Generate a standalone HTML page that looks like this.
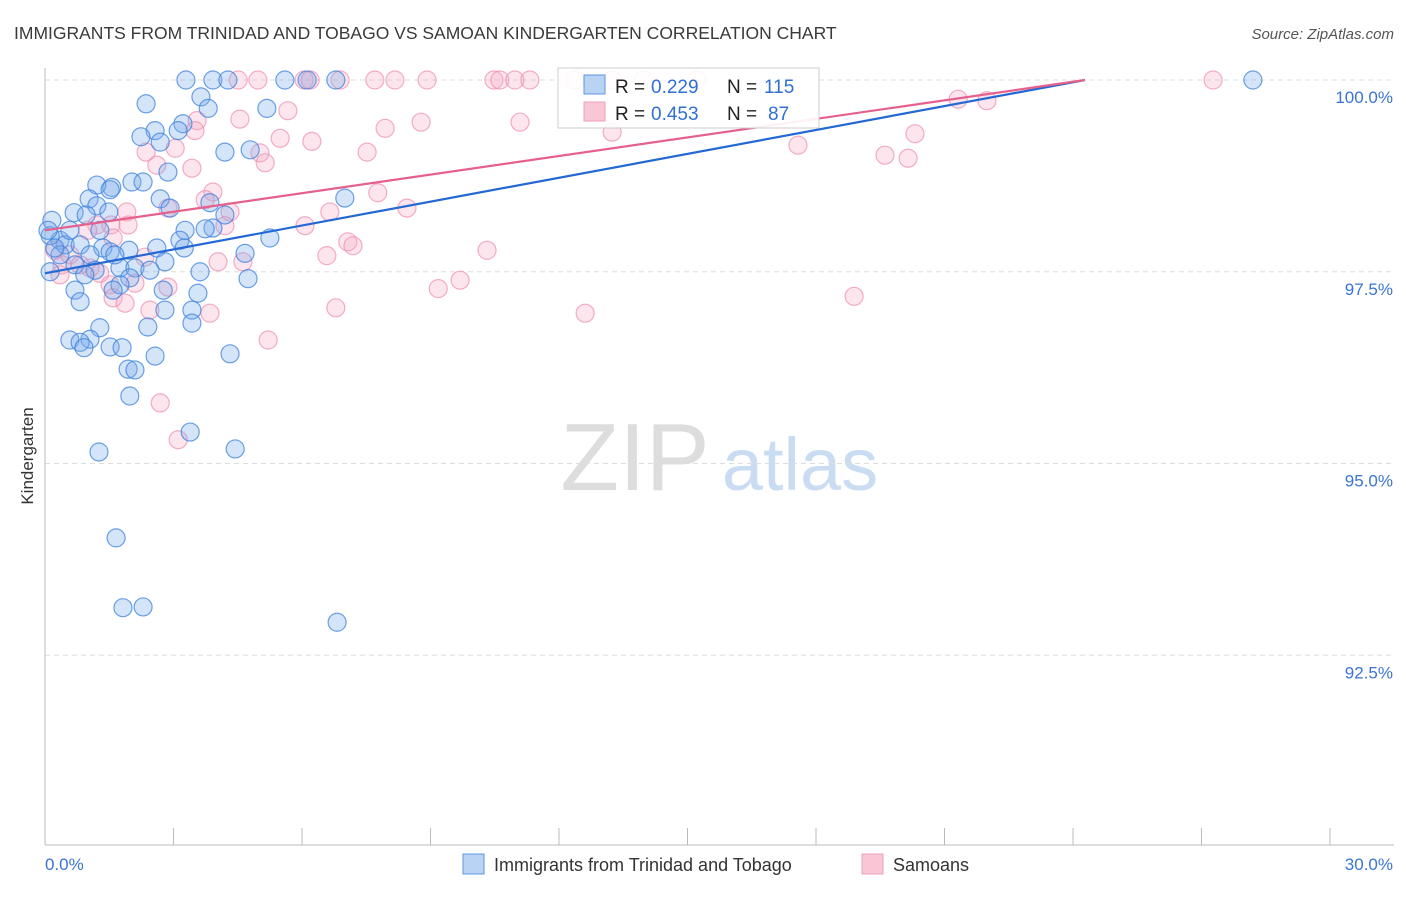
<!DOCTYPE html>
<html><head><meta charset="utf-8"><style>
body{margin:0;background:#fff;font-family:"Liberation Sans",sans-serif;}
svg text{font-family:"Liberation Sans",sans-serif;}
</style></head><body>
<svg id="chart" width="1406" height="892" xmlns="http://www.w3.org/2000/svg">
<text x="14" y="39" font-size="17.5" fill="#3a3a3a">IMMIGRANTS FROM TRINIDAD AND TOBAGO VS SAMOAN KINDERGARTEN CORRELATION CHART</text>
<text x="1394" y="39" font-size="15" fill="#555" text-anchor="end" font-style="italic">Source: ZipAtlas.com</text>
<g>
<text x="635" y="490" font-size="96" fill="#ddd" font-family="Liberation Serif" text-anchor="middle">ZIP</text>
<text x="800" y="490" font-size="74" fill="#c9dcf2" text-anchor="middle">atlas</text>
</g>
<g id="grid"></g>
<g id="axes"></g>
<g id="points"></g>
<g id="lines"></g>
<text transform="translate(33,456) rotate(-90)" font-size="17" fill="#333" text-anchor="middle">Kindergarten</text>
<g>
<rect x="558" y="68" width="261" height="60" fill="#fff" fill-opacity="0.9" stroke="#ccc"/>
<rect x="584" y="75" width="21" height="19" fill="#b9d3f5" stroke="#5b95e0"/>
<rect x="584" y="102" width="21" height="19" fill="#f9c6d5" stroke="#f0a0bb"/>
<text x="615" y="93" font-size="19" fill="#222">R = </text><text x="651" y="93" font-size="19" fill="#2f6fd6">0.229</text>
<text x="727" y="93" font-size="19" fill="#222">N = </text><text x="764" y="93" font-size="19" fill="#2f6fd6">115</text>
<text x="615" y="120" font-size="19" fill="#222">R = </text><text x="651" y="120" font-size="19" fill="#2f6fd6">0.453</text>
<text x="727" y="120" font-size="19" fill="#222">N = </text><text x="768" y="120" font-size="19" fill="#2f6fd6">87</text>
</g>
<g>
<rect x="463" y="854" width="21" height="20" fill="#b9d3f5" stroke="#5b95e0"/>
<text x="494" y="871" font-size="18" fill="#333">Immigrants from Trinidad and Tobago</text>
<rect x="862" y="854" width="21" height="20" fill="#f9c6d5" stroke="#f0a0bb"/>
<text x="893" y="871" font-size="18" fill="#333">Samoans</text>
</g>
</svg>
<script>
const blueX=[3.29,3.92,4.27,5.60,6.12,6.79,28.20,3.64,2.36,3.81,5.18,3.22,2.57,2.24,3.11,2.69,4.20,4.79,2.87,2.03,2.29,1.56,1.21,1.03,1.21,1.52,0.68,0.96,0.16,1.49,2.69,2.92,3.85,4.20,7.00,3.27,3.92,3.15,5.25,1.96,2.61,3.25,1.35,4.67,0.35,0.12,0.47,0.82,1.05,1.52,1.75,2.10,2.80,3.62,0.70,1.17,0.35,1.98,2.76,3.57,4.74,1.75,0.93,0.70,1.59,0.82,3.43,2.80,2.40,3.43,1.28,1.05,0.58,0.82,0.91,1.52,1.80,2.57,4.32,1.94,2.10,1.98,3.39,1.26,4.44,1.66,1.82,2.29,6.82,0.12,0.07,0.23,0.58,1.28,1.63,2.45,3.74];
const blueY=[100,100,100,100,100,100,100,99.78,99.69,99.63,99.63,99.43,99.34,99.26,99.34,99.19,99.06,99.09,98.80,98.67,98.67,98.60,98.63,98.45,98.36,98.57,98.27,98.24,98.17,98.28,98.45,98.33,98.40,98.24,98.46,98.04,98.07,97.91,97.94,97.78,97.81,97.81,97.81,97.74,97.91,97.97,97.85,97.85,97.72,97.76,97.55,97.55,97.63,97.50,97.59,97.52,97.72,97.42,97.26,97.22,97.41,97.33,97.46,97.26,97.26,97.11,97.00,97.00,96.78,96.83,96.77,96.62,96.61,96.58,96.51,96.52,96.51,96.40,96.43,96.23,96.22,95.88,95.41,95.15,95.19,94.03,93.12,93.13,92.93,97.50,98.04,97.81,98.04,98.04,97.72,97.52,98.06];
const pinkX=[4.51,4.97,6.05,6.19,6.89,7.70,8.17,8.92,10.48,10.62,10.97,11.32,12.37,13.24,13.96,15.22,27.27,21.32,21.99,3.55,5.67,4.55,7.94,8.78,11.09,13.24,20.31,3.50,3.04,2.36,5.02,6.23,5.49,7.52,17.58,19.61,20.15,3.43,2.61,5.14,3.92,3.74,7.77,8.45,2.87,4.32,6.65,1.91,1.54,1.21,1.59,6.07,4.20,7.07,7.19,10.32,6.58,4.62,4.04,2.33,0.40,1.05,1.28,2.10,2.87,0.35,1.52,1.59,9.18,9.69,6.79,12.61,18.89,1.87,2.45,3.85,5.21,2.69,3.11,0.23,0.58,0.82,1.94,1.00];
const pinkY=[100,100,100,100,100,100,100,100,100,100,100,100,100,100,100,100,100,99.75,99.73,99.47,99.60,99.49,99.37,99.45,99.45,99.32,99.30,99.34,99.11,99.06,99.05,99.20,99.24,99.06,99.15,99.02,98.98,98.85,98.89,98.92,98.54,98.44,98.53,98.33,98.33,98.28,98.28,98.28,98.11,98.11,97.94,98.10,98.10,97.89,97.84,97.78,97.71,97.63,97.63,97.69,97.59,97.55,97.48,97.35,97.30,97.46,97.33,97.16,97.28,97.39,97.03,96.96,97.18,97.09,97.00,96.96,96.61,95.79,95.31,97.78,97.72,97.59,98.11,98.04];
const blueTrend=[[0,97.48],[24.28,100]];
const pinkTrend=[[0,98.04],[24.28,100]];
const yTicks=[100,97.5,95,92.5];
const yTickLabels=["100.0%","97.5%","95.0%","92.5%"];
const xTickCount=[0,3,6,9,12,15,18,21,24,27,30];
const xEndLabels=["0.0%","30.0%"];
const NS="http://www.w3.org/2000/svg";
const X=v=>45+v*(1285/30);
const Y=v=>80+(100-v)*76.7;
function mk(t,a,p){const e=document.createElementNS(NS,t);for(const k in a)e.setAttribute(k,a[k]);p.appendChild(e);return e;}
const grid=document.getElementById('grid'),axes=document.getElementById('axes');
yTicks.forEach((t,i)=>{
 const l=mk('line',{x1:45,x2:1394,y1:Y(t),y2:Y(t),stroke:'#ddd','stroke-dasharray':'5,4'},grid);
 
 
 const tx=mk('text',{x:1393,y:Y(t)+23,'font-size':17,fill:'#3b74d4','text-anchor':'end'},axes);
 tx.textContent=yTickLabels[i];
 
 
});
const ax=mk('line',{x1:45,x2:45,y1:68,y2:845,stroke:'#bbb'},axes);


const bx=mk('line',{x1:45,x2:1394,y1:845,y2:845,stroke:'#bbb'},axes);


xTickCount.forEach(t=>{
 const l=mk('line',{x1:X(t),x2:X(t),y1:828,y2:845,stroke:'#bbb'},axes);
 
 
});
const xl0=mk('text',{x:45,y:870,'font-size':17,fill:'#3b74d4'},axes);xl0.textContent=xEndLabels[0];


const xl1=mk('text',{x:1393,y:870,'font-size':17,fill:'#3b74d4','text-anchor':'end'},axes);xl1.textContent=xEndLabels[1];


const pts=document.getElementById('points');
pinkX.forEach((v,i)=>{
 const c=mk('circle',{cx:X(v),cy:Y(pinkY[i]),r:9,fill:'rgba(246,170,196,0.3)',stroke:'rgba(238,140,172,0.7)','stroke-width':1.2},pts);
 
 
});
blueX.forEach((v,i)=>{
 const c=mk('circle',{cx:X(v),cy:Y(blueY[i]),r:9,fill:'rgba(120,170,235,0.32)',stroke:'rgba(60,130,220,0.75)','stroke-width':1.2},pts);
 
 
});
const lines=document.getElementById('lines');
const bl=mk('line',{x1:X(blueTrend[0][0]),y1:Y(blueTrend[0][1]),x2:X(blueTrend[1][0]),y2:Y(blueTrend[1][1]),stroke:'#2468d4','stroke-width':2.2},lines);


const pl=mk('line',{x1:X(pinkTrend[0][0]),y1:Y(pinkTrend[0][1]),x2:X(pinkTrend[1][0]),y2:Y(pinkTrend[1][1]),stroke:'#e5608c','stroke-width':2.2},lines);


</script>
</body></html>
